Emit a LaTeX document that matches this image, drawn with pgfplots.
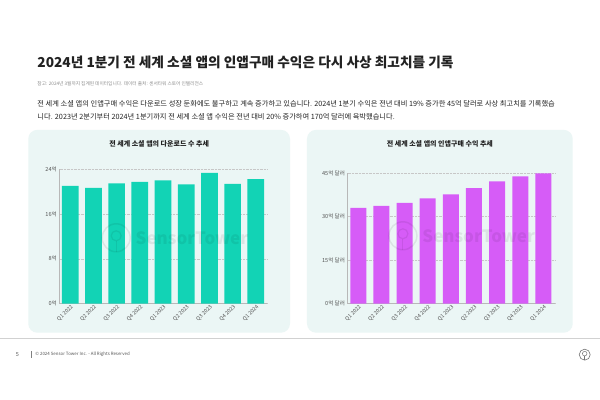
\documentclass[border=0pt]{standalone}
\usepackage{pgfplots}
\pgfplotsset{compat=1.18}
\usepackage{fontspec}
\setmainfont{Noto Sans CJK KR}
\definecolor{barteal}{HTML}{12D3B5}
\definecolor{barpurple}{HTML}{D65CF7}
\definecolor{panelbg}{HTML}{EBF6F5}
\definecolor{txtdark}{HTML}{222222}
\definecolor{txtgray}{HTML}{555555}
\pgfplotsset{
  mybar/.style={
    scale only axis,
    axis x line*=bottom, axis y line*=left,
    axis line style={draw=black!28, line width=0.7pt},
    ymajorgrids,
    grid style={densely dotted, black!22, line width=0.5pt},
    ybar, bar shift=0pt,
    major tick length=0pt,
    xtick={0,...,8},
    xticklabels={Q1 2022,Q2 2022,Q3 2022,Q4 2022,Q1 2023,Q2 2023,Q3 2023,Q4 2023,Q1 2024},
    x tick label style={rotate=45, anchor=east, font=\fontsize{5.3}{5.5}\selectfont, text=txtgray, inner sep=0pt, yshift=-3pt},
    y tick label style={font=\fontsize{5.6}{6}\selectfont, text=txtgray, inner sep=1pt, xshift=-1.5pt},
    ymin=0,
  }
}
\begin{document}
\begin{tikzpicture}
\path[fill=white] (0pt,0pt) rectangle (600pt,-400pt);
% title texts
\node[anchor=west, inner sep=0pt, text=txtdark] at (37pt,-62pt) {\fontsize{13.7}{15}\selectfont\bfseries 2024년 1분기 전 세계 소셜 앱의 인앱구매 수익은 다시 사상 최고치를 기록};
\node[anchor=west, inner sep=0pt, text=black!45] at (37pt,-84pt) {\fontsize{4.7}{5}\selectfont 참고: 2024년 3월까지 집계된 데이터입니다. 데이터 출처: 센서타워 스토어 인텔리전스};
\node[anchor=west, inner sep=0pt, text=txtdark] at (37pt,-104pt) {\fontsize{7.25}{8}\selectfont 전 세계 소셜 앱의 인앱구매 수익은 다운로드 성장 둔화에도 불구하고 계속 증가하고 있습니다. 2024년 1분기 수익은 전년 대비 19\% 증가한 45억 달러로 사상 최고치를 기록했습};
\node[anchor=west, inner sep=0pt, text=txtdark] at (37pt,-117pt) {\fontsize{7.25}{8}\selectfont 니다. 2023년 2분기부터 2024년 1분기까지 전 세계 소셜 앱 수익은 전년 대비 20\% 증가하여 170억 달러에 육박했습니다.};
% panels
\fill[panelbg, rounded corners=9pt] (28pt,-130pt) rectangle (290pt,-333pt);
\fill[panelbg, rounded corners=9pt] (307pt,-130pt) rectangle (573pt,-333pt);
\node[text=txtdark] at (159pt,-144pt) {\fontsize{7}{8}\selectfont\bfseries 전 세계 소셜 앱의 다운로드 수 추세};
\node[text=txtdark] at (440pt,-144pt) {\fontsize{7}{8}\selectfont\bfseries 전 세계 소셜 앱의 인앱구매 수익 추세};
% left chart
\begin{axis}[mybar, at={(59.3pt,-304pt)}, anchor=south west,
  width=207.4pt, height=134.7pt,
  xmin=-0.46, xmax=8.47, ymax=24,
  ytick={0,8,16,24}, yticklabels={0억,8억,16억,24억},
  bar width=16.7pt]
\addplot[fill=barteal, draw=none] coordinates {(0,21.03) (1,20.67) (2,21.45) (3,21.74) (4,21.98) (5,21.27) (6,23.35) (7,21.39) (8,22.2)};
\end{axis}
% right chart
\begin{axis}[mybar, at={(347.7pt,-304pt)}, anchor=south west,
  width=207.3pt, height=130.7pt,
  xmin=-0.46, xmax=8.49, ymax=45,
  ytick={0,15,30,45}, yticklabels={0억 달러,15억 달러,30억 달러,45억 달러},
  bar width=16pt]
\addplot[fill=barpurple, draw=none] coordinates {(0,33.06) (1,33.75) (2,34.78) (3,36.28) (4,37.65) (5,39.83) (6,42.13) (7,43.85) (8,44.9)};
\end{axis}
% watermarks
\begin{scope}[opacity=0.07]
\draw[line width=1.5pt, black] (116pt,-238pt) circle (14pt);
\draw[line width=1.2pt, black] (116pt,-236pt) circle (5pt);
\draw[line width=1.2pt, black] (116pt,-241pt) -- (116pt,-252pt);
\node[anchor=west, text=black] at (132pt,-238pt) {\fontsize{17}{18}\selectfont\bfseries SensorTower};
\draw[line width=1.5pt, black] (403pt,-236pt) circle (14pt);
\draw[line width=1.2pt, black] (403pt,-234pt) circle (5pt);
\draw[line width=1.2pt, black] (403pt,-239pt) -- (403pt,-250pt);
\node[anchor=west, text=black] at (419pt,-236pt) {\fontsize{17}{18}\selectfont\bfseries SensorTower};
\end{scope}
% footer
\draw[black!18, line width=0.6pt] (0pt,-339pt) -- (600pt,-339pt);
\node[text=txtgray] at (17pt,-355pt) {\fontsize{5.5}{6}\selectfont 5};
\draw[black!50, line width=0.5pt] (31pt,-351.5pt) -- (31pt,-358.5pt);
\node[anchor=west, inner sep=0pt, text=txtgray] at (35pt,-355pt) {\fontsize{4.4}{5}\selectfont © 2024 Sensor Tower Inc. - All Rights Reserved};
\draw[black!55, line width=0.6pt] (585pt,-355pt) circle (5.5pt);
\draw[black!55, line width=0.5pt] (585pt,-354pt) circle (2.3pt);
\draw[black!55, line width=0.5pt] (585pt,-356.3pt) -- (585pt,-360.5pt);
\end{tikzpicture}
\end{document}
